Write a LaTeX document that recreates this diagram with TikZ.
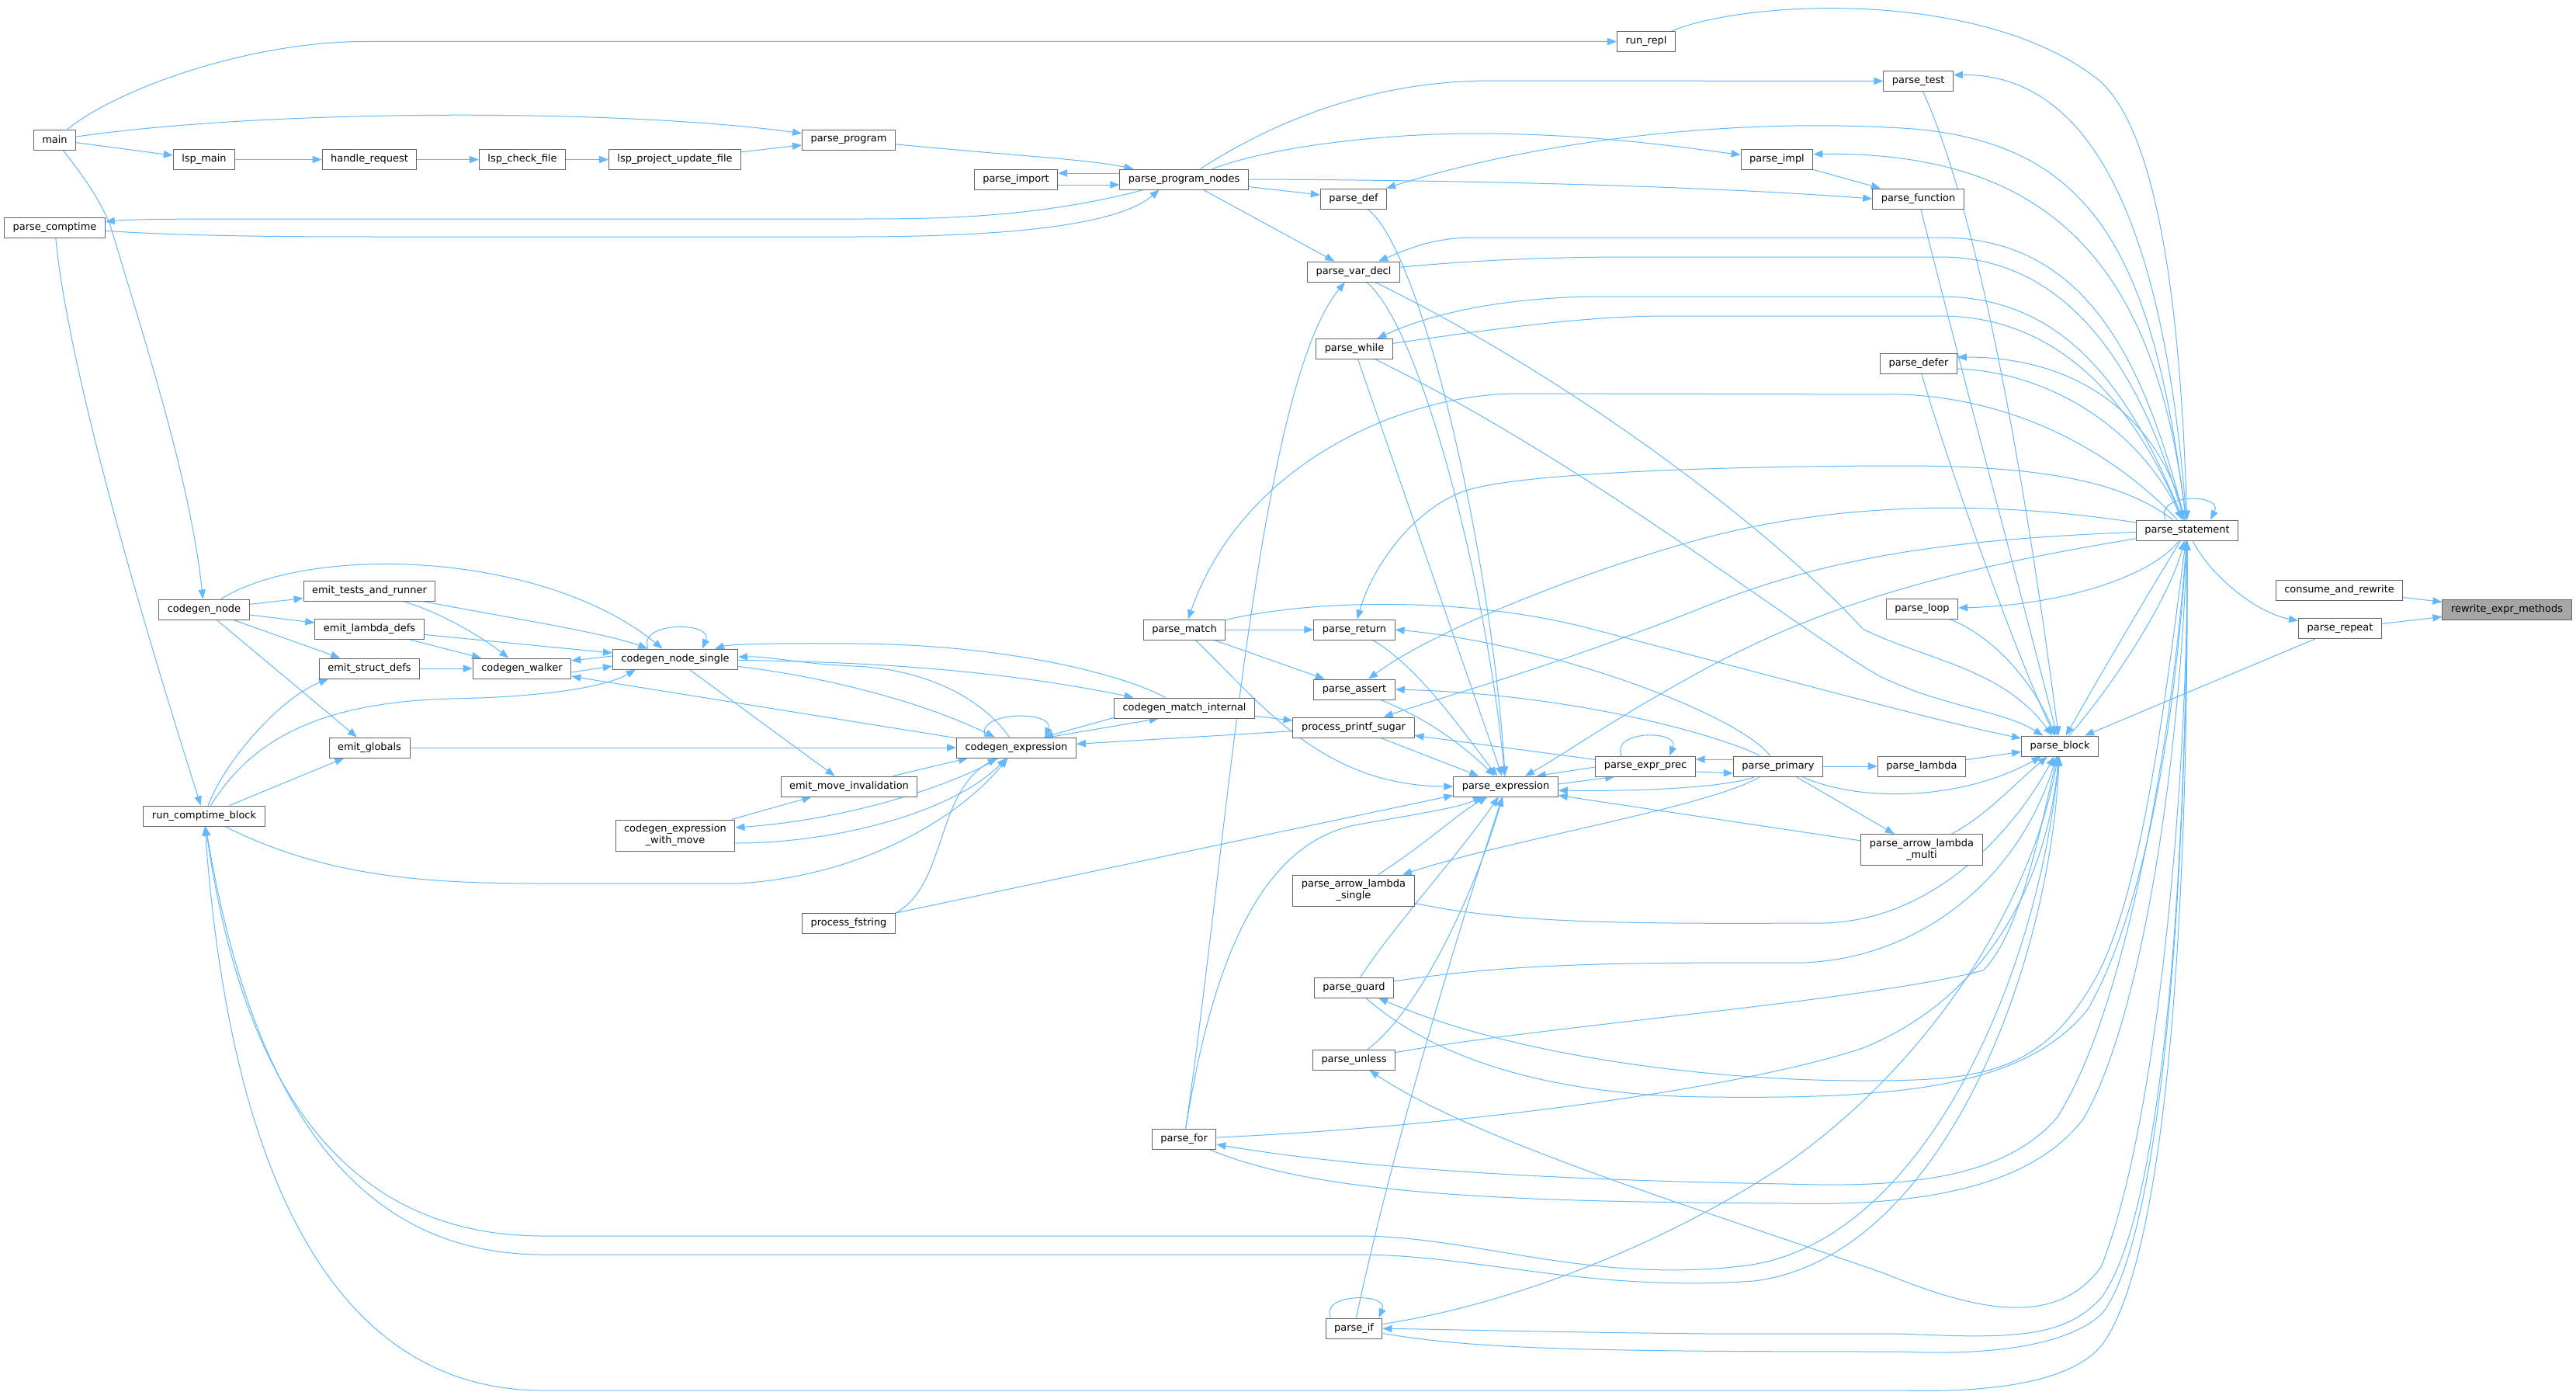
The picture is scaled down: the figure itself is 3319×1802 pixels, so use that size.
\documentclass[tikz,border=0pt]{standalone}
\usepackage{fontspec}
\setmainfont{DejaVu Sans}
\usetikzlibrary{arrows.meta,calc,backgrounds}
\definecolor{edgeblue}{HTML}{63B8FF}
\definecolor{boxgray}{HTML}{666666}
\definecolor{hlgray}{HTML}{A6A6A6}
\tikzset{
  fn/.style={draw=boxgray, fill=white, line width=0.75pt, inner xsep=8.3pt, inner ysep=1pt,
    minimum height=19.5pt, align=center, font=\fontsize{9.7}{11.3}\selectfont},
  fntwo/.style={fn, minimum height=30pt},
  fnhl/.style={fn, fill=hlgray},
  call/.style={draw=edgeblue, line width=0.75pt, -{Triangle[length=9pt,width=7pt]}},
}
\begin{document}
\begin{tikzpicture}[x=0.75pt,y=-0.75pt]
\useasboundingbox (0,0) rectangle (3319,1802);
\node[fn] (main) at (70.5,180) {main};
\node[fn] (lspmain) at (263,205.5) {lsp\_main};
\node[fn] (handlereq) at (476,205.5) {handle\_request};
\node[fn] (lspcheck) at (673,205.5) {lsp\_check\_file};
\node[fn] (lspupdate) at (869.5,205.5) {lsp\_project\_update\_file};
\node[fn] (parseprogram) at (1093.5,180) {parse\_program};
\node[fn] (parseimport) at (1309,231) {parse\_import};
\node[fn] (progn) at (1525.6,231) {parse\_program\_nodes};
\node[fn] (parsecomptime) at (70.5,293) {parse\_comptime};
\node[fn] (runrepl) at (2121,53.5) {run\_repl};
\node[fn] (parsetest) at (2471.6,104.5) {parse\_test};
\node[fn] (parseimpl) at (2289.5,205.5) {parse\_impl};
\node[fn] (parsedef) at (1744,256) {parse\_def};
\node[fn] (parsefunc) at (2471.5,256) {parse\_function};
\node[fn] (vardecl) at (1744,350) {parse\_var\_decl};
\node[fn] (parsewhile) at (1745,449.5) {parse\_while};
\node[fn] (parsedefer) at (2472,468) {parse\_defer};
\node[fn] (stmt) at (2818,683) {parse\_statement};
\node[fn] (consume) at (3014,760) {consume\_and\_rewrite};
\node[fnhl] (rewrite) at (3230,785) {rewrite\_expr\_methods};
\node[fn] (parserepeat) at (3015,809.5) {parse\_repeat};
\node[fn] (parseloop) at (2476.5,784) {parse\_loop};
\node[fn] (block) at (2654,961) {parse\_block};
\node[fn] (parsematch) at (1526,811) {parse\_match};
\node[fn] (parsereturn) at (1745,811) {parse\_return};
\node[fn] (parseassert) at (1745,888) {parse\_assert};
\node[fn] (matchint) at (1526,912) {codegen\_match\_internal};
\node[fn] (printfsugar) at (1744,937) {process\_printf\_sugar};
\node[fn] (cgnode) at (263,785) {codegen\_node};
\node[fn] (emittests) at (476,761) {emit\_tests\_and\_runner};
\node[fn] (emitlambda) at (476,810.5) {emit\_lambda\_defs};
\node[fn] (emitstruct) at (476,861) {emit\_struct\_defs};
\node[fn] (walker) at (672.5,861) {codegen\_walker};
\node[fn] (nodesingle) at (870,849) {codegen\_node\_single};
\node[fn] (emitglobals) at (476,963) {emit\_globals};
\node[fn] (cgexpr) at (1309.5,963) {codegen\_expression};
\node[fn] (comptimeblk) at (263,1051) {run\_comptime\_block};
\node[fn] (moveinv) at (1094,1013) {emit\_move\_invalidation};
\node[fntwo] (exprmove) at (870,1076) {codegen\_expression\\\_with\_move};
\node[fn] (fstring) at (1093.5,1189.5) {process\_fstring};
\node[fn] (expr) at (1940,1013) {parse\_expression};
\node[fn] (exprprec) at (2120,987) {parse\_expr\_prec};
\node[fn] (primary) at (2291,987) {parse\_primary};
\node[fn] (lambda) at (2476,987) {parse\_lambda};
\node[fntwo] (arrowmulti) at (2476,1094.6) {parse\_arrow\_lambda\\\_multi};
\node[fntwo] (arrowsingle) at (1744,1147) {parse\_arrow\_lambda\\\_single};
\node[fn] (guard) at (1744.5,1272) {parse\_guard};
\node[fn] (unless) at (1744.5,1365) {parse\_unless};
\node[fn] (parsefor) at (1525.6,1467) {parse\_for};
\node[fn] (parseif) at (1744.5,1711) {parse\_if};
\begin{scope}[on background layer]
\draw[call] (main) .. controls (150,115) and (320,53.5) .. (470,53.5) -- (runrepl);
\draw[call] (main) .. controls (350,140) and (800,140) .. (parseprogram);
\draw[call] (main) -- (lspmain);
\draw[call] (lspmain) -- (handlereq);
\draw[call] (handlereq) -- (lspcheck);
\draw[call] (lspcheck) -- (lspupdate);
\draw[call] (lspupdate) -- (parseprogram);
\draw[call] (main) .. controls (110,230) and (130,260) .. (142,290) .. controls (190,450) and (245,620) .. (cgnode);
\draw[call] (parseprogram) .. controls (1300,200) and (1400,205) .. (progn);
\draw[call] ($(progn.west)+(0,-8)$) -- ($(parseimport.east)+(0,-8)$);
\draw[call] ($(parseimport.east)+(0,7)$) -- ($(progn.west)+(0,7)$);
\draw[call] (progn) .. controls (1330,282) and (1200,282) .. (1100,282) -- (300,282) .. controls (200,282) and (160,283) .. (parsecomptime);
\draw[call] (parsecomptime) .. controls (250,305) and (400,305) .. (500,305) -- (1100,305) .. controls (1300,305) and (1440,290) .. ($(progn.south)+(-32,0)$);
\draw[call] (parsecomptime) .. controls (90,500) and (215,900) .. (comptimeblk);
\draw[call] (progn) -- (parsedef);
\draw[call] (progn) -- (vardecl);
\draw[call] (progn) .. controls (1620,170) and (1750,104) .. (1920,104) -- (parsetest);
\draw[call] (progn) .. controls (1650,185) and (1800,172) .. (1900,172) .. controls (2050,172) and (2170,190) .. (parseimpl);
\draw[call] (progn.east) .. controls (1900,232) and (2200,240) .. (parsefunc.west);
\draw[call] (parseimpl) -- (parsefunc);
\draw[call] (stmt) .. controls (2790,300) and (2700,95) .. ($(parsetest.east)+(0,-8)$);
\draw[call] (stmt) .. controls (2780,350) and (2650,195) .. ($(parseimpl.east)+(0,-7)$);
\draw[call] (stmt) .. controls (2775,330) and (2700,180) .. (2450,165) .. controls (2200,150) and (1950,190) .. (parsedef);
\draw[call] (stmt) .. controls (2760,450) and (2680,306) .. (2500,306) -- (1900,306) .. controls (1850,306) and (1820,318) .. (vardecl);
\draw[call] (vardecl) .. controls (1900,335) and (2000,331) .. (2100,331) -- (2500,331) .. controls (2650,331) and (2750,450) .. (stmt);
\draw[call] (stmt) .. controls (2745,500) and (2660,382) .. (2500,382) -- (2050,382) .. controls (1900,385) and (1820,415) .. (parsewhile);
\draw[call] (parsewhile) .. controls (1950,420) and (2050,407) .. (2150,407) -- (2500,407) .. controls (2640,407) and (2740,500) .. (stmt);
\draw[call] (stmt) .. controls (2790,560) and (2700,460) .. ($(parsedefer.east)+(0,-8)$);
\draw[call] ($(parsedefer.east)+(0,7)$) .. controls (2650,480) and (2760,560) .. (stmt);
\draw[call] (runrepl) .. controls (2250,0) and (2550,-15) .. (2700,100) .. controls (2780,160) and (2810,400) .. (stmt);
\draw[call] (parsetest) .. controls (2560,300) and (2620,700) .. (block);
\draw[call] (parsefunc) .. controls (2520,450) and (2600,750) .. (block);
\draw[call] (parsedefer) .. controls (2510,600) and (2600,850) .. (block);
\draw[call] (vardecl) .. controls (2050,500) and (2300,700) .. (2400,810) .. controls (2480,850) and (2580,860) .. (block);
\draw[call] (parsewhile) .. controls (2050,600) and (2300,800) .. (2420,870) .. controls (2500,910) and (2580,915) .. (block);
\draw[call] (parsedef) .. controls (1830,320) and (1920,700) .. (expr);
\draw[call] (vardecl) .. controls (1830,420) and (1915,750) .. (expr);
\draw[call] (parsewhile) -- (expr);
\draw[call] (stmt) .. controls (2740,600) and (2620,515) .. (2450,508) -- (1950,507) .. controls (1800,510) and (1600,600) .. (parsematch);
\draw[call] (parsematch) .. controls (1700,770) and (1900,770) .. (2050,810) .. controls (2300,875) and (2500,930) .. (block);
\draw[call] (parsematch) -- (parsereturn);
\draw[call] (parsematch) -- (parseassert);
\draw[call] (parsematch) .. controls (1620,900) and (1700,1012) .. (expr.west);
\draw[call] (stmt) .. controls (2740,625) and (2650,600) .. (2450,600) .. controls (2300,600) and (1950,605) .. (1880,635) .. controls (1810,665) and (1765,740) .. (parsereturn);
\draw[call] (primary) .. controls (2240,920) and (2000,830) .. (parsereturn.east);
\draw[call] (primary) .. controls (2235,955) and (2050,895) .. (parseassert.east);
\draw[call] (parsereturn) .. controls (1830,860) and (1890,950) .. (expr);
\draw[call] (parseassert) .. controls (1850,930) and (1895,970) .. (expr);
\draw[call] (stmt) .. controls (2600,650) and (2400,640) .. (2200,692) .. controls (2050,732) and (1850,810) .. (parseassert);
\draw[call] (stmt) .. controls (2500,695) and (2350,720) .. (2200,780) .. controls (2000,860) and (1850,900) .. (printfsugar);
\draw[call] (stmt) .. controls (2500,735) and (2350,780) .. (2200,860) .. controls (2080,925) and (2010,975) .. (expr);
\draw[call] (matchint) -- (printfsugar);
\draw[call] (printfsugar) -- (cgexpr);
\draw[call] (printfsugar) -- (expr);
\draw[call] (exprprec) -- (printfsugar);
\draw[call] ($(expr.east)+(0,-3)$) -- ($(exprprec.south west)+(25,0)$);
\draw[call] ($(exprprec.west)+(0,1)$) -- ($(expr.north east)+(-28,0)$);
\draw[call] ($(exprprec.north)+(-31,0)$) .. controls (2075,940) and (2165,940) .. ($(exprprec.north)+(31,0)$);
\draw[call] ($(primary.west)+(0,-9)$) -- ($(exprprec.east)+(0,-9)$);
\draw[call] ($(exprprec.east)+(0,7)$) -- ($(primary.west)+(0,9)$);
\draw[call] (primary) .. controls (2240,1010) and (2150,1020) .. ($(expr.east)+(0,5)$);
\draw[call] (arrowmulti) -- ($(expr.south east)+(0,-2)$);
\draw[call] (primary) .. controls (2200,1040) and (1950,1080) .. (arrowsingle);
\draw[call] (primary) -- (lambda);
\draw[call] (lambda) -- (block);
\draw[call] (primary) -- (arrowmulti);
\draw[call] (arrowmulti) .. controls (2560,1050) and (2595,1010) .. (block);
\draw[call] (primary) .. controls (2400,1035) and (2530,1030) .. (block);
\draw[call] (arrowsingle) .. controls (1840,1085) and (1875,1050) .. (expr);
\draw[call] (arrowsingle) .. controls (1950,1190) and (2100,1190) .. (2350,1189) .. controls (2500,1185) and (2600,1060) .. (block);
\draw[call] (guard) .. controls (1790,1200) and (1880,1100) .. (expr);
\draw[call] (unless) .. controls (1830,1300) and (1900,1150) .. (expr);
\draw[call] (parsefor) .. controls (1580,1100) and (1620,500) .. (vardecl);
\draw[call] (parsefor) .. controls (1560,1250) and (1620,1085) .. (1750,1062) .. controls (1830,1048) and (1880,1040) .. (expr);
\draw[call] (parseif) .. controls (1800,1450) and (1895,1150) .. (expr);
\draw[call] ($(parseif.north)+(-30,0)$) .. controls (1700,1665) and (1790,1665) .. ($(parseif.north)+(32,0)$);
\draw[call] (guard) .. controls (1950,1240) and (2100,1240) .. (2300,1240) .. controls (2450,1245) and (2595,1150) .. (block);
\draw[call] (stmt) .. controls (2790,900) and (2760,1150) .. (2700,1260) .. controls (2630,1385) and (2550,1392) .. (2400,1392) .. controls (2200,1392) and (1950,1360) .. (guard);
\draw[call] (guard) .. controls (1850,1365) and (2000,1411) .. (2200,1413) .. controls (2450,1416) and (2610,1400) .. (2690,1300) .. controls (2770,1160) and (2805,900) .. (stmt);
\draw[call] (unless) .. controls (2000,1320) and (2400,1290) .. (2555,1250) .. controls (2605,1200) and (2630,1060) .. (block);
\draw[call] (stmt) .. controls (2820,1000) and (2780,1450) .. (2707,1632) .. controls (2650,1710) and (2550,1690) .. (2430,1641) .. controls (2200,1560) and (1900,1470) .. (unless);
\draw[call] (parsefor) .. controls (1900,1450) and (2250,1400) .. (2400,1350) .. controls (2550,1290) and (2635,1150) .. (block);
\draw[call] (stmt) .. controls (2800,950) and (2740,1300) .. (2650,1440) .. controls (2580,1520) and (2450,1530) .. (2300,1525) .. controls (2000,1520) and (1750,1505) .. (parsefor);
\draw[call] (parsefor) .. controls (1700,1540) and (1950,1548) .. (2300,1550) .. controls (2500,1555) and (2625,1520) .. (2685,1440) .. controls (2765,1300) and (2810,950) .. (stmt);
\draw[call] (parseif) .. controls (1950,1680) and (2150,1600) .. (2300,1500) .. controls (2500,1360) and (2620,1150) .. (block);
\draw[call] (stmt) .. controls (2818,1100) and (2790,1560) .. (2707,1672) .. controls (2660,1722) and (2600,1725) .. (2450,1718) -- (2200,1718) .. controls (2000,1716) and (1850,1712) .. (parseif);
\draw[call] (parseif) .. controls (1900,1738) and (2050,1741) .. (2450,1741) .. controls (2600,1748) and (2680,1722) .. (2710,1690) .. controls (2790,1580) and (2818,1100) .. (stmt);
\draw[call] (stmt) .. controls (2820,1100) and (2800,1600) .. (2710,1730) .. controls (2680,1770) and (2600,1795) .. (2450,1791) -- (700,1791) .. controls (360,1791) and (285,1350) .. (comptimeblk);
\draw[call] (block) .. controls (2630,1250) and (2480,1600) .. (2250,1630) .. controls (2050,1655) and (1900,1592) .. (1750,1592) -- (700,1592) .. controls (480,1592) and (320,1450) .. (comptimeblk);
\draw[call] (comptimeblk) .. controls (330,1470) and (490,1616) .. (700,1616) -- (1750,1616) .. controls (1900,1616) and (2050,1665) .. (2260,1650) .. controls (2500,1620) and (2640,1250) .. (block);
\draw[call] (comptimeblk) .. controls (290,980) and (360,900) .. ($(emitstruct.south west)+(12,0)$);
\draw[call] (comptimeblk) .. controls (320,960) and (400,905) .. (580,900) .. controls (700,898) and (780,885) .. ($(nodesingle.south west)+(30,0)$);
\draw[call] (comptimeblk) -- (emitglobals);
\draw[call] (comptimeblk) .. controls (420,1130) and (550,1138) .. (700,1138) -- (950,1138) .. controls (1100,1130) and (1230,1060) .. (cgexpr);
\draw[call] (cgnode) -- (emittests);
\draw[call] (cgnode) -- (emitlambda);
\draw[call] (cgnode) -- (emitstruct);
\draw[call] (cgnode) -- (emitglobals);
\draw[call] (cgnode) .. controls (400,700) and (700,710) .. (nodesingle);
\draw[call] (emittests) .. controls (570,790) and (620,820) .. (walker);
\draw[call] (emittests) .. controls (650,795) and (780,815) .. (nodesingle);
\draw[call] (emitlambda) -- (walker);
\draw[call] (emitlambda) -- (nodesingle);
\draw[call] (emitstruct) -- (walker);
\draw[call] ($(walker.east)+(0,5)$) -- ($(nodesingle.west)+(0,9)$);
\draw[call] ($(nodesingle.west)+(0,-4)$) -- ($(walker.east)+(0,-10)$);
\draw[call] ($(nodesingle.north)+(-35,0)$) .. controls (820,800) and (920,800) .. ($(nodesingle.north)+(35,0)$);
\draw[call] (nodesingle) -- (moveinv);
\draw[call] (matchint) .. controls (1450,870) and (1300,830) .. (1100,829) .. controls (1000,828) and (940,830) .. ($(nodesingle.north east)+(-30,0)$);
\draw[call] (nodesingle) .. controls (1050,852) and (1250,855) .. (matchint);
\draw[call] (cgexpr) .. controls (1270,905) and (1200,862) .. (1100,858) .. controls (1030,855) and (990,845) .. (nodesingle);
\draw[call] (nodesingle) .. controls (1050,870) and (1180,900) .. (cgexpr);
\draw[call] (cgexpr) -- (walker);
\draw[call] (emitglobals) -- (cgexpr);
\draw[call] (moveinv) -- ($(cgexpr.south west)+(15,0)$);
\draw[call] (exprmove) -- ($(moveinv.south west)+(40,0)$);
\draw[call] (cgexpr) .. controls (1230,1010) and (1100,1055) .. ($(exprmove.east)+(0,-10)$);
\draw[call] ($(exprmove.east)+(0,10)$) .. controls (1080,1086) and (1230,1045) .. (cgexpr);
\draw[call] (fstring.north east) .. controls (1220,1140) and (1205,1020) .. (cgexpr);
\draw[call] (fstring.north east) -- ($(expr.south west)+(0,-2)$);
\draw[call] ($(cgexpr.north)+(-40,0)$) .. controls (1255,915) and (1360,915) .. ($(cgexpr.north)+(37,0)$);
\draw[call] ($(cgexpr.north east)+(-35,0)$) -- ($(matchint.south west)+(58,0)$);
\draw[call] ($(matchint.south west)+(0,-1)$) -- ($(cgexpr.north east)+(-42,0)$);
\draw[call] (stmt) .. controls (2770,760) and (2700,880) .. (block);
\draw[call] (block) .. controls (2725,880) and (2795,770) .. (stmt);
\draw[call] (stmt) .. controls (2770,745) and (2650,780) .. (parseloop);
\draw[call] (parseloop) .. controls (2570,820) and (2620,880) .. (block);
\draw[call] (stmt) .. controls (2850,745) and (2910,790) .. (parserepeat);
\draw[call] (parserepeat) -- (block);
\draw[call] (consume) -- (rewrite);
\draw[call] (parserepeat) -- (rewrite);
\draw[call] ($(stmt.north)+(-28,0)$) .. controls (2775,635) and (2865,635) .. ($(stmt.north)+(30,0)$);
\end{scope}
\end{tikzpicture}
\end{document}
